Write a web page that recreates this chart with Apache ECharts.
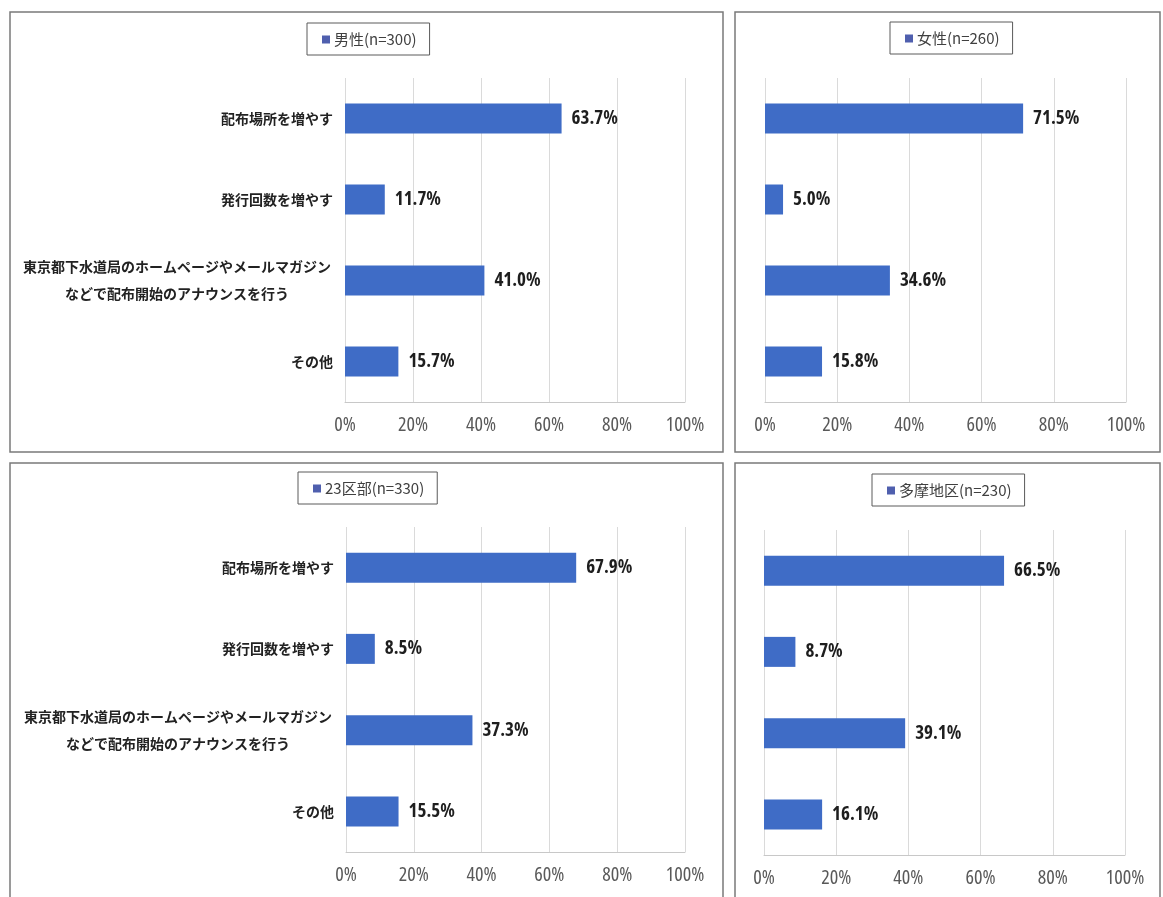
<!DOCTYPE html>
<html>
<head>
<meta charset="utf-8">
<script src="https://cdn.jsdelivr.net/npm/echarts@6/dist/echarts.min.js"></script>
<style>
  html, body { margin: 0; padding: 0; background: #ffffff; }
  #chart { width: 1163px; height: 897px; }
</style>
</head>
<body>
<div id="chart"></div>
<script>
// Survey answers: ways to improve distribution, split by gender and by area
const categories = [
  '配布場所を増やす',
  '発行回数を増やす',
  '東京都下水道局のホームページやメールマガジン\nなどで配布開始のアナウンスを行う',
  'その他'
];
const seriesNames = ['男性(n=300)', '女性(n=260)', '23区部(n=330)', '多摩地区(n=230)'];
const male = [63.7, 11.7, 41.0, 15.7];
const female = [71.5, 5.0, 34.6, 15.8];
const ku23 = [67.9, 8.5, 37.3, 15.5];
const tama = [66.5, 8.7, 39.1, 16.1];
const tickValues = [0, 20, 40, 60, 80, 100];

const BAR_COLOR = '#3f6cc6';
const NARROW = "'Open Sans', 'DejaVu Sans', sans-serif";
const JP = "'Noto Sans CJK JP', sans-serif";

// Panel layout: plot rectangle, legend box position, whether category labels are shown
const panels = [
  { data: male,   name: seriesNames[0], grid: { left: 345, top: 78,  width: 340, height: 324 }, legend: { left: 307, top: 23 },  showCats: true },
  { data: female, name: seriesNames[1], grid: { left: 765, top: 78,  width: 361, height: 324 }, legend: { left: 890, top: 22 },  showCats: false },
  { data: ku23,   name: seriesNames[2], grid: { left: 346, top: 527, width: 339, height: 325 }, legend: { left: 298, top: 472 }, showCats: true },
  { data: tama,   name: seriesNames[3], grid: { left: 764, top: 530, width: 361, height: 325 }, legend: { left: 872, top: 474 }, showCats: false }
];

const chart = echarts.init(document.getElementById('chart'), null, { renderer: 'canvas' });

function catFormatter(value) {
  if (value.indexOf('\n') >= 0) {
    return value.split('\n').map(function (s) { return '{c|' + s + '}'; }).join('\n');
  }
  return '{r|' + value + '}';
}

const option = {
  backgroundColor: '#ffffff',
  animation: false,
  grid: panels.map(p => Object.assign({ containLabel: false }, p.grid)),
  legend: panels.map((p, i) => ({
    data: [p.name],
    left: p.legend.left,
    top: p.legend.top,
    orient: 'horizontal',
    icon: 'rect',
    itemWidth: 8,
    itemHeight: 8,
    itemGap: 4,
    padding: [9, 13, 8, 15],
    borderColor: '#5a5a5a',
    borderWidth: 1,
    borderRadius: 0,
    selectedMode: false,
    itemStyle: { color: '#4f5fae' },
    textStyle: { fontFamily: JP, fontSize: 15, color: '#404040', padding: [0, 0, 0, -1] }
  })),
  xAxis: panels.map((p, i) => ({
    type: 'value',
    gridIndex: i,
    min: tickValues[0],
    max: tickValues[tickValues.length - 1],
    interval: tickValues[1] - tickValues[0],
    axisLine: { show: true, lineStyle: { color: '#c8c8c8', width: 1 } },
    axisTick: { show: false },
    splitLine: { show: true, lineStyle: { color: '#dadada', width: 1 } },
    axisLabel: {
      formatter: '{value}%',
      margin: 13,
      fontStyle: 'condensed',
      fontFamily: NARROW,
      fontSize: 20,
      color: '#595959'
    }
  })),
  yAxis: panels.map((p, i) => ({
    type: 'category',
    gridIndex: i,
    inverse: true,
    data: categories,
    axisLine: { show: false },
    axisTick: { show: false },
    splitLine: { show: false },
    axisLabel: {
      show: p.showCats,
      margin: 12,
      formatter: catFormatter,
      rich: {
        r: { fontFamily: JP, fontSize: 14, fontWeight: 'bold', color: '#222222' },
        c: { fontFamily: JP, fontSize: 14, fontWeight: 'bold', color: '#222222', width: 312, align: 'center', lineHeight: 27 }
      }
    }
  })),
  series: panels.map((p, i) => ({
    name: p.name,
    type: 'bar',
    xAxisIndex: i,
    yAxisIndex: i,
    data: p.data,
    barWidth: 30,
    itemStyle: { color: BAR_COLOR },
    label: {
      show: true,
      position: 'right',
      distance: 10,
      formatter: params => params.value.toFixed(1) + '%',
      fontStyle: 'condensed',
      fontFamily: NARROW,
      fontWeight: 'bold',
      fontSize: 19,
      color: '#1e1e1e'
    }
  })),
  // panel frames
  graphic: [
    { type: 'rect', shape: { x: 10, y: 12, width: 713, height: 440 }, style: { fill: 'none', stroke: '#7a7a7a', lineWidth: 1.5 }, silent: true },
    { type: 'rect', shape: { x: 735, y: 12, width: 425, height: 440 }, style: { fill: 'none', stroke: '#7a7a7a', lineWidth: 1.5 }, silent: true },
    { type: 'rect', shape: { x: 10, y: 463, width: 713, height: 450 }, style: { fill: 'none', stroke: '#7a7a7a', lineWidth: 1.5 }, silent: true },
    { type: 'rect', shape: { x: 735, y: 463, width: 425, height: 450 }, style: { fill: 'none', stroke: '#7a7a7a', lineWidth: 1.5 }, silent: true }
  ]
};

chart.setOption(option);
</script>
</body>
</html>
